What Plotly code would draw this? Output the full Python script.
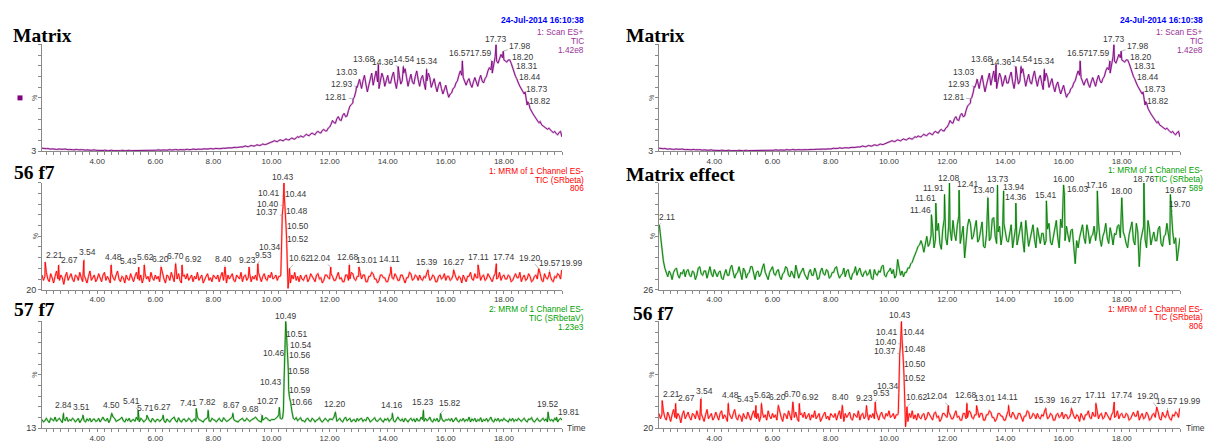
import plotly.graph_objects as go

W, H = 1206, 446

# ---- scan grid shared by the chromatogram traces (minutes) ----
GRID_START = 2.1
GRID_STEP = 0.05

# Matrix, Scan ES+ TIC (relative %, full scale 1.42e8), 2.10 .. 20.00 min
tic_grid = [
    5.8, 5.5, 5.2, 5.4, 5.6, 5.1, 4.9, 5.2, 5.3, 4.9, 4.7, 5.0, 5.1, 4.8, 4.6, 4.9, 5.0, 4.6, 4.5, 4.7,
    4.8, 4.5, 4.3, 4.6, 4.7, 4.3, 4.1, 4.4, 4.5, 4.1, 4.0, 4.3, 4.4, 4.0, 3.9, 4.2, 4.3, 3.9, 3.8, 4.1,
    4.2, 3.9, 3.7, 4.0, 4.1, 3.7, 3.6, 3.9, 4.0, 3.6, 3.5, 3.8, 3.9, 3.5, 3.6, 3.9, 4.0, 3.6, 3.5, 3.8,
    3.9, 3.6, 3.6, 3.9, 4.1, 3.7, 3.7, 4.0, 4.0, 3.7, 3.6, 3.9, 4.2, 3.8, 3.8, 4.1, 4.1, 3.8, 3.7, 4.0,
    4.3, 4.0, 3.9, 4.2, 4.4, 4.1, 4.0, 4.3, 4.5, 4.2, 4.1, 4.4, 4.6, 4.3, 4.2, 4.5, 4.7, 4.4, 4.3, 4.6,
    4.8, 4.5, 4.4, 4.7, 5.0, 4.7, 4.6, 4.9, 5.2, 4.9, 4.8, 5.1, 5.3, 5.0, 4.9, 5.2, 5.5, 5.2, 5.1, 5.5,
    5.8, 5.5, 5.3, 5.7, 6.1, 5.8, 5.7, 6.1, 6.5, 6.2, 6.0, 6.4, 6.9, 6.6, 6.4, 6.8, 7.3, 7.0, 6.9, 7.3,
    7.8, 7.4, 7.2, 7.7, 8.3, 7.9, 7.7, 8.2, 8.9, 8.5, 8.3, 8.9, 9.6, 9.2, 9.1, 9.7, 10.5, 10.9, 11.4, 11.9,
    12.6, 12.1, 11.8, 12.7, 13.4, 12.9, 12.5, 13.5, 14.2, 13.6, 13.3, 14.3, 15.0, 14.4, 14.1, 15.2, 16.2, 15.6, 17.0, 16.3,
    16.0, 17.3, 18.4, 17.5, 17.2, 18.8, 19.5, 18.6, 18.1, 20.3, 21.0, 20.0, 19.6, 22.0, 22.8, 21.6, 21.5, 24.0, 25.0, 27.5,
    31.0, 29.0, 28.5, 32.5, 34.5, 31.5, 31.0, 35.5, 37.5, 34.5, 35.0, 40.0, 44.0, 45.5, 47.0, 52.0, 57.0, 61.0, 65.0, 66.0,
    60, 67, 72, 64, 57, 63, 70, 74, 63, 69, 76, 66, 60, 68, 74, 70, 62, 67, 72, 65,
    65, 71, 75, 66, 60, 69, 72, 64, 67, 74, 78, 70, 62, 68, 73, 66, 64, 71, 76, 68,
    62, 69, 72, 65, 59, 67, 74, 70, 61, 66, 69, 62, 57, 63, 66, 60, 55, 59, 63, 57,
    52, 55, 56, 60, 61, 65, 67, 72, 76, 72, 70, 66, 63, 67, 69, 64, 61, 66, 70, 66,
    62, 68, 72, 67, 65, 69, 71, 76, 79, 77, 74, 82, 89, 85, 83, 88, 91, 88, 86, 85,
    84, 86, 88, 83, 79, 74, 71, 68, 65, 62, 60, 57, 55, 53, 45, 47, 42, 39, 37, 35,
    33, 31, 29, 30, 27, 26, 25, 24, 23, 24, 22, 21, 20, 21, 19, 18, 20, 21, 16,
]
tic_peak_t = [12.81, 12.93, 13.03, 13.68, 14.36, 14.54, 15.34, 16.57,
              17.59, 17.73, 17.98, 18.20, 18.31, 18.44, 18.73, 18.82]
tic_peak_v = [50.6, 62, 68.5, 82, 80, 80, 77.5, 85,
              85, 100, 94, 86, 78, 69, 57, 48]

# 56 f7, MRM ES- TIC (SRbeta), full scale 806, 2.10 .. 19.95 min
red_grid = [
    31, 27, 30, 33, 28, 26, 32, 29, 25, 30, 34, 28, 27, 31, 29, 24, 30, 33, 27, 29,
    32, 28, 26, 31, 30, 27, 33, 29, 26, 31, 28, 25, 30, 34, 27, 29, 31, 26, 28, 32,
    29, 26, 31, 33, 27, 30, 28, 25, 32, 29, 27, 31, 34, 28, 26, 30, 29, 25, 31, 28,
    27, 32, 29, 26, 30, 33, 28, 27, 31, 25, 29, 32, 28, 30, 26, 33, 29, 27, 31, 28,
    30, 26, 29, 32, 28, 25, 31, 30, 27, 33, 29, 26, 30, 28, 32, 27, 25, 30, 31, 28,
    32, 27, 29, 31, 26, 30, 28, 33, 27, 29, 31, 25, 28, 30, 32, 27, 29, 26, 31, 29,
    28, 31, 26, 30, 33, 27, 29, 25, 31, 28, 30, 32, 27, 26, 31, 29, 28, 33, 26, 30,
    31, 27, 29, 32, 26, 30, 28, 31, 27, 33, 29, 26, 30, 32, 28, 27, 31, 29, 33, 28,
    29, 31, 27, 30, 30, 58, 83, 88, 68, 33, 30, 25, 31, 28, 33, 27, 30, 26, 31, 28,
    27, 30, 31, 26, 28, 32, 30, 27, 26, 31, 32, 28, 29, 25, 27, 31, 31, 29, 28, 32,
    30, 27, 27, 31, 33, 28, 29, 26, 26, 31, 31, 27, 28, 33, 32, 28, 27, 30, 30, 33,
    28, 31, 31, 26, 26, 30, 30, 33, 32, 28, 28, 25, 27, 31, 31, 29, 29, 26, 26, 30,
    33, 29, 28, 32, 30, 27, 27, 31, 31, 28, 25, 29, 29, 33, 32, 27, 28, 31, 30, 27,
    31, 28, 27, 30, 29, 33, 32, 27, 28, 31, 30, 26, 26, 30, 31, 28, 29, 32, 27, 30,
    30, 27, 28, 31, 32, 29, 27, 30, 29, 25, 31, 28, 26, 30, 30, 33, 28, 27, 32, 29,
    29, 32, 27, 30, 31, 27, 28, 32, 30, 27, 26, 30, 32, 28, 29, 33, 27, 30, 31, 28,
    28, 31, 30, 26, 27, 30, 32, 29, 29, 33, 26, 29, 31, 27, 28, 32, 30, 26, 27, 30,
    31, 28, 29, 32, 27, 26, 32, 29, 28, 31, 30, 27, 26, 30, 29, 32, 31, 28,
]
red_peak_t = [2.21, 2.67, 3.54, 4.48, 5.43, 5.62, 6.20, 6.70, 6.92, 8.40,
              9.23, 9.53, 10.34, 10.37, 10.40, 10.41, 10.43, 10.44, 10.48,
              10.50, 10.52, 10.62, 12.04, 12.68, 13.01, 14.11, 15.39, 16.27,
              17.11, 17.74, 19.20, 19.57, 19.99]
red_peak_v = [40.7, 38.5, 42, 38.5, 37, 38.5, 37, 39.5, 38.5, 37,
              37, 39.5, 46.7, 75.6, 83, 90, 100, 91, 79,
              68, 57.8, 36, 37, 38.5, 37, 37, 34.8, 34.8,
              38.5, 39.5, 35.8, 33.3, 34.8]
red_shape_t = [10.32, 10.46, 10.55, 10.57, 10.59, 10.65]
red_shape_v = [31, 85, 33, 21, 26, 25]

# 57 f7, MRM ES- TIC (SRbetaV), full scale 1.23e3, 2.10 .. 20.00 min
g57_grid = [
    20, 18, 19, 21, 19, 17.5, 21, 20, 19, 22, 18.5, 20, 21, 19, 17.5, 20.5, 19, 22, 18.5, 20,
    19, 21, 20, 18, 19.5, 21, 17.5, 20, 21.5, 19, 18, 20.5, 19, 21, 18, 20, 20.5, 18.5, 19, 21,
    18, 20, 22, 19.5, 19, 21, 17.5, 20, 20.5, 22, 21, 18.5, 19, 20, 20.5, 22, 19, 18, 20.5, 19,
    21, 18, 19.5, 20, 18.5, 22, 19.5, 18, 21, 20, 18, 19, 20.5, 21, 19, 18, 21, 19.5, 18, 20,
    20, 18.5, 20, 21, 19, 17.5, 20.5, 19, 18, 20, 21, 22, 19, 18, 21.5, 19, 18, 20, 20.5, 18.5,
    19, 21, 20, 18, 19.5, 20.5, 18.5, 22, 20, 19.5, 19, 18, 20, 20.5, 21.5, 19, 18.5, 21, 20, 19.5,
    18, 20, 21, 19, 18.5, 21.5, 20, 18.5, 19, 20, 21, 22, 20, 19, 18.5, 18, 19.5, 20.5, 21, 19,
    19, 21, 20, 18.5, 19.5, 20, 21, 22, 20.5, 19, 18.5, 18, 19.5, 20.5, 21.5, 21, 19.5, 19, 20, 20,
    20, 21, 22, 24, 21, 20.5, 24, 62, 96, 76, 41, 35, 27, 21, 20, 21.5, 19, 20, 21.5, 19,
    19, 18, 20.5, 21, 19, 18.5, 21, 20, 18, 19.5, 20, 21.5, 19, 18, 20, 21, 19.5, 18.5, 20.5, 20,
    20, 22, 19, 18.5, 20, 21, 19, 18, 20.5, 22, 19, 20, 21, 18, 19.5, 20, 18, 21, 19, 20.5,
    21, 18.5, 20, 19, 22, 20.5, 18, 19, 20, 21.5, 19, 18.5, 20, 21, 19, 18, 20.5, 19.5, 21, 18.5,
    20, 21.5, 19, 18, 20, 22, 20, 19, 20.5, 18, 21, 19.5, 18, 20, 21, 19, 20.5, 18, 21, 19,
    19, 22, 20, 18.5, 21, 19, 20, 22, 19, 18, 20.5, 19, 21, 18, 20, 21.5, 19, 18.5, 20, 19.5,
    20.5, 19, 21, 18, 20, 21.5, 19, 18, 20, 19, 21, 18.5, 20, 19, 22, 18, 20.5, 19, 21, 18,
    20, 19, 21.5, 18, 20, 19, 21, 18.5, 20, 22, 19, 18, 20.5, 19, 21, 18.5, 20, 19, 21, 19.5,
    19, 18, 20.5, 19, 21, 18.5, 20, 19, 21, 19.5, 18.5, 20, 21, 19, 18, 20.5, 20, 21.5, 19, 18,
    20, 21, 19, 18.5, 20, 21, 19, 20.5, 18, 21, 19, 20, 18.5, 21, 19.5, 18, 20, 21, 19.5,
]
g57_peak_t = [2.84, 3.51, 4.50, 5.41, 5.71, 6.27, 7.41, 7.82, 8.67, 9.68,
              10.27, 10.43, 10.46, 10.49, 10.51, 10.54, 10.56, 10.58, 10.59,
              10.66, 12.20, 14.16, 15.23, 15.82, 19.52, 19.81]
g57_peak_v = [25, 23.5, 25, 27.5, 23.5, 23.5, 29, 27.5, 25, 23.5,
              30, 49, 72, 100, 92, 80.7, 72.6, 59.7, 44.4,
              34, 26, 25, 27.5, 25, 26, 22]
g57_shape_t = [10.38, 10.41, 10.45, 10.47, 10.62, 10.75]
g57_shape_v = [21, 27, 62, 80, 38, 21]

# Matrix effect, MRM ES- TIC (SRbeta), full scale 589, 2.20 .. 20.00 min
me_start = 2.2
me_grid = [
    52, 46, 41, 38, 35, 39, 37, 33, 38, 40, 41, 36, 34, 38, 37, 40, 35, 39,
    40, 36, 35, 39, 38, 33, 36, 41, 42, 37, 36, 39, 39, 34, 38, 42, 37, 35, 40, 38,
    35, 38, 39, 34, 33, 37, 40, 36, 36, 41, 43, 38, 34, 37, 38, 42, 36, 33, 41, 39,
    34, 37, 38, 42, 42, 36, 33, 38, 39, 35, 37, 41, 44, 38, 35, 33, 38, 40, 42, 37,
    36, 39, 40, 35, 33, 37, 38, 42, 41, 36, 35, 39, 37, 34, 43, 39, 34, 37, 39, 41,
    37, 35, 33, 38, 40, 36, 36, 41, 38, 33, 34, 39, 41, 37, 36, 40, 39, 34, 35, 38,
    38, 41, 42, 37, 34, 36, 37, 41, 35, 39, 40, 35, 33, 37, 38, 42, 36, 39, 41, 37,
    35, 38, 39, 36, 37, 40, 34, 33, 40, 37, 36, 39, 38, 42, 43, 36, 35, 38, 39, 41,
    37, 40, 34, 36, 47, 41, 36, 39, 35, 38, 38, 41, 41, 44, 45, 48, 50, 53, 56, 57,
    60, 57, 52, 59, 63, 56, 58, 64, 69, 55, 61, 67, 72, 58, 54, 68, 75, 62, 57, 70,
    68, 60, 74, 65, 60, 71, 77, 58, 64, 70, 48, 62, 70, 75, 72, 61, 63, 69, 74, 59,
    61, 67, 73, 56, 55, 64, 68, 60, 62, 75, 76, 63, 58, 66, 70, 57, 64, 72, 67, 60,
    59, 66, 71, 55, 63, 69, 57, 62, 68, 73, 60, 52, 74, 64, 56, 61, 66, 71, 61, 55,
    69, 62, 58, 65, 65, 57, 60, 68, 72, 59, 57, 63, 67, 74, 62, 55, 75, 69, 66, 60,
    70, 64, 59, 67, 68, 56, 44, 60, 55, 62, 66, 71, 62, 58, 71, 66, 58, 63, 64, 70,
    60, 67, 73, 61, 56, 63, 66, 72, 62, 58, 69, 64, 57, 65, 64, 70, 71, 62, 59, 66,
    63, 58, 55, 64, 68, 73, 60, 57, 72, 66, 42, 60, 65, 70, 61, 55, 74, 68, 57, 62,
    66, 60, 60, 68, 70, 58, 56, 63, 64, 72, 62, 57, 71, 66, 58, 62, 46, 55, 62,
]
me_peak_t = [2.11, 11.46, 11.61, 11.91, 12.08, 12.41, 13.40, 13.73, 13.94,
             14.36, 15.41, 16.00, 16.03, 17.16, 18.00, 18.76, 19.67, 19.70]
me_peak_v = [71, 78, 86, 92, 100, 95, 89.7, 98.6, 94.5,
             86, 87.6, 98.6, 92, 94.5, 89.7, 100, 92, 79.6]

assert len(tic_grid) == 359 and len(g57_grid) == 359
assert len(red_grid) == 358 and len(me_grid) == 357

# time axis
x_range = [2.1, 20.0]
x_label_vals = [4, 6, 8, 10, 12, 14, 16, 18]

# ---- label placement (pixel offsets of each peak label from its apex) ----
tic_lbl_off = [(-17, -2), (-15, -2), (-13, -7), (-14, -5), (-15, -5), (1, -8),
               (0, -8), (-2, -8), (-11, -8), (0, -5), (17, -5), (13, -3),
               (14, -3), (13, -2), (12, -3), (12, -1)]
red_lbl_off = [(9, -7), (11, -5), (4, -8), (2, -8), (-10, -6), (1, -8), (-1, -8),
               (0, -8), (11, -6), (-2, -8), (-2, -7), (6, -9), (-11, -7),
               (-15, -3), (-15, -2), (-14, -3), (-1, -6), (12, -1), (12, 0),
               (12, 0), (11, 0), (10, -10), (-11, -9), (-1, -8), (8, -7),
               (-1, -8), (-1, -8), (0, -8), (0, -8), (8, -7), (-9, -11),
               (0, -9), (10, -7)]
g57_lbl_off = [(0, -8), (-1, -8), (0, -8), (-7, -9), (-1, -7), (-1, -8), (-8, -6),
               (-1, -8), (-1, -8), (-12, -6), (-11, -6), (-13, -2), (-11, -3),
               (0, -5), (11, 3), (14, 0), (12, 0), (11, 0), (11, 0), (11, 0),
               (0, -8), (0, -8), (0, -8), (9, -10), (0, -8), (13, -5)]
me_lbl_off = [(8, -8), (-11, -5), (-10, -5), (-11, -6), (0, -5), (9, -6),
              (-4, -8), (0, -6), (10, -4), (0, -6), (0, -6), (0, -6), (14, -5),
              (0, -6), (0, -7), (0, -4), (6, -4), (9, -8)]


def build_series(grid, start, peak_t, peak_v, shape_t=(), shape_v=()):
    pts = {}
    for i, v in enumerate(grid):
        pts[round(start + i * GRID_STEP, 2)] = v
    for t, v in zip(shape_t, shape_v):
        pts[round(t, 2)] = v
    for t, v in zip(peak_t, peak_v):
        pts[round(t, 2)] = v
    ts = sorted(pts)
    return ts, [pts[t] for t in ts]


series = {
    "tic": build_series(tic_grid, GRID_START, tic_peak_t, tic_peak_v),
    "red": build_series(red_grid, GRID_START, red_peak_t, red_peak_v,
                        red_shape_t, red_shape_v),
    "g57": build_series(g57_grid, GRID_START, g57_peak_t, g57_peak_v,
                        g57_shape_t, g57_shape_v),
    "me": build_series(me_grid, me_start, me_peak_t, me_peak_v),
}
labels = {
    "tic": (tic_peak_t, tic_peak_v, tic_lbl_off),
    "red": (red_peak_t, red_peak_v, red_lbl_off),
    "g57": (g57_peak_t, g57_peak_v, g57_lbl_off),
    "me": (me_peak_t, me_peak_v, me_lbl_off),
}

PURPLE, PURPLE_LT = "#800080", "#d8b0d8"
RED, RED_LT = "#ff0000", "#ffb4b4"
GREEN, GREEN_LT = "#007a00", "#a8d8a8"
TXT = "#3a3a3a"
AXIS = "#8a8a8a"
SANS = "Arial, 'Liberation Sans', sans-serif"
SERIF = "'Times New Roman', 'Liberation Serif', serif"

COLS = [(42, 562), (659, 1180)]             # plot area left/right, px
ROWS = [(45, 153), (185, 293), (325, 433)]  # plot area top/bottom, px

panels = [
    dict(col=0, row=0, key="tic", floor=3, color=PURPLE, light=PURPLE_LT,
         title="Matrix", title_xy=(11, 36),
         head=[("24-Jul-2014 16:10:38", "#0000ff", True, 20.7),
               ("1: Scan ES+", "#993399", False, 32.3),
               ("TIC", "#993399", False, 41.5),
               ("1.42e8", "#993399", False, 50.7)], head_x=586),
    dict(col=0, row=1, key="red", floor=20, color=RED, light=RED_LT,
         title="56 f7", title_xy=(12, 174),
         head=[("1: MRM of 1 Channel ES-", RED, False, 172.7),
               ("TIC (SRbeta)", RED, False, 181.7),
               ("806", RED, False, 190.3)], head_x=586),
    dict(col=0, row=2, key="g57", floor=13, color=GREEN, light=GREEN_LT,
         title="57 f7", title_xy=(12, 313),
         head=[("2: MRM of 1 Channel ES-", "#00a000", False, 312.7),
               ("TIC (SRbetaV)", "#00a000", False, 321.7),
               ("1.23e3", "#00a000", False, 330.3)], head_x=586, time_x=565),
    dict(col=1, row=0, key="tic", floor=3, color=PURPLE, light=PURPLE_LT,
         title="Matrix", title_xy=(624, 36),
         head=[("24-Jul-2014 16:10:38", "#0000ff", True, 20.7),
               ("1: Scan ES+", "#993399", False, 32.3),
               ("TIC", "#993399", False, 41.5),
               ("1.42e8", "#993399", False, 50.7)], head_x=1205),
    dict(col=1, row=1, key="me", floor=26, color=GREEN, light=GREEN_LT,
         title="Matrix effect", title_xy=(624, 176),
         head=[("1: MRM of 1 Channel ES-", "#00a000", False, 172.3),
               ("TIC (SRbeta)", "#00a000", False, 181.5),
               ("589", "#00a000", False, 190.0)], head_x=1205),
    dict(col=1, row=2, key="red", floor=20, color=RED, light=RED_LT,
         title="56 f7", title_xy=(631, 317),
         head=[("1: MRM of 1 Channel ES-", RED, False, 312.3),
               ("TIC (SRbeta)", RED, False, 321.0),
               ("806", RED, False, 329.3)], head_x=1205, time_x=1184),
]


def fx(px):
    return px / W


def fy(py):
    return 1 - py / H


fig = go.Figure()
layout = dict(width=W, height=H, margin=dict(l=0, r=0, t=0, b=0, pad=0),
              paper_bgcolor="white", plot_bgcolor="white", showlegend=False,
              font=dict(family=SANS, size=8, color=TXT))
annotations = []
shapes = []

quarter_ticks = [round(2.25 + 0.25 * i, 2) for i in range(72)]
quarter_text = [("%.2f" % v) if v in x_label_vals else "" for v in quarter_ticks]

for n, p in enumerate(panels, start=1):
    xa = "x" if n == 1 else f"x{n}"
    ya = "y" if n == 1 else f"y{n}"
    left, right = COLS[p["col"]]
    top, bottom = ROWS[p["row"]]
    ts, vs = series[p["key"]]

    fig.add_trace(go.Scatter(x=ts, y=vs, mode="lines", xaxis=xa, yaxis=ya,
                             line=dict(color=p["light"], width=2.0),
                             hoverinfo="skip"))
    fig.add_trace(go.Scatter(x=ts, y=vs, mode="lines", xaxis=xa, yaxis=ya,
                             line=dict(color=p["color"], width=0.9)))

    floor = p["floor"]
    yticks = [floor + k * (100 - floor) / 10 for k in range(11)]
    layout["xaxis" if n == 1 else f"xaxis{n}"] = dict(
        domain=[fx(left), fx(right)], range=x_range, anchor=ya,
        showline=True, linecolor=AXIS, linewidth=1, showgrid=False,
        zeroline=False, ticks="outside", ticklen=3, tickcolor=AXIS,
        tickmode="array", tickvals=quarter_ticks, ticktext=quarter_text,
        ticklabelstandoff=-1,
        tickfont=dict(size=8, color=TXT, family=SANS), fixedrange=True)
    layout["yaxis" if n == 1 else f"yaxis{n}"] = dict(
        domain=[fy(bottom), fy(top)], range=[floor, 100], anchor=xa,
        showline=True, linecolor=AXIS, linewidth=1, showgrid=False,
        zeroline=False, ticks="outside", ticklen=3, tickcolor=AXIS,
        tickmode="array", tickvals=yticks,
        ticktext=[str(floor)] + [""] * 10,
        tickfont=dict(size=9, color=TXT, family=SANS), fixedrange=True)

    # peak labels with leader lines
    lt, lv, loff = labels[p["key"]]
    for t, v, (dx, dy) in zip(lt, lv, loff):
        annotations.append(dict(
            x=t, y=v, xref=xa, yref=ya, text="%.2f" % t, showarrow=True,
            arrowhead=0, arrowwidth=0.7, arrowcolor="#9a9a9a", standoff=0,
            ax=dx, ay=dy, font=dict(size=8.5, color=TXT, family=SANS)))

    # panel title
    tx, ty = p["title_xy"]
    annotations.append(dict(
        x=fx(tx), y=fy(ty), xref="paper", yref="paper", xanchor="left",
        yanchor="middle", showarrow=False, text="<b>%s</b>" % p["title"],
        font=dict(size=19.5, color="black", family=SERIF)))

    # trace description, top right
    for text, col, bold, hy in p["head"]:
        annotations.append(dict(
            x=fx(p["head_x"]), y=fy(hy), xref="paper", yref="paper",
            xanchor="right", yanchor="middle", showarrow=False,
            text=("<b>%s</b>" % text) if bold else text,
            font=dict(size=8.5 if bold else 8.3, color=col, family=SANS)))

    # % marker on the intensity axis
    annotations.append(dict(
        x=fx(left - 7), y=fy((top + bottom) / 2), xref="paper", yref="paper",
        xanchor="center", yanchor="middle", showarrow=False, text="%",
        textangle=-90, font=dict(size=7, color="#555555", family=SANS)))

    if "time_x" in p:
        annotations.append(dict(
            x=fx(p["time_x"]), y=fy(bottom), xref="paper", yref="paper",
            xanchor="left", yanchor="middle", showarrow=False, text="Time",
            font=dict(size=8.5, color=TXT, family=SANS)))

# channel marker square beside the top-left trace
shapes.append(dict(type="rect", xref="paper", yref="paper",
                   x0=fx(17.5), x1=fx(22.5), y0=fy(101.5), y1=fy(96.5),
                   fillcolor=PURPLE, line=dict(width=0)))

layout["annotations"] = annotations
layout["shapes"] = shapes
fig.update_layout(**layout)
fig.write_html("out.html")
